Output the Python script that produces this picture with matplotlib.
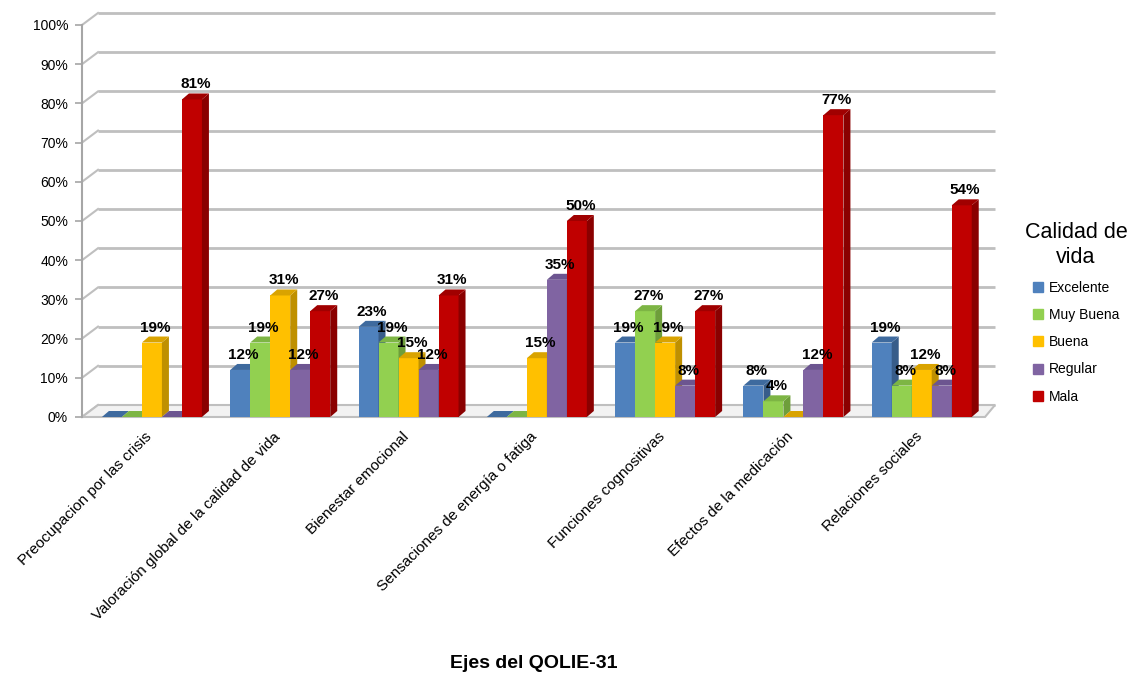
import numpy as np
import matplotlib
matplotlib.use("Agg")
import matplotlib.pyplot as plt
from matplotlib.patches import Polygon
from matplotlib.lines import Line2D
from matplotlib.transforms import offset_copy, ScaledTranslation

plt.rcParams["font.family"] = ["Liberation Sans", "DejaVu Sans"]

categories = [
    "Preocupacion por las crisis",
    "Valoración global de la calidad de vida",
    "Bienestar emocional",
    "Sensaciones de energía o fatiga",
    "Funciones cognositivas",
    "Efectos de la medicación",
    "Relaciones sociales",
]
series_names = ["Excelente", "Muy Buena", "Buena", "Regular", "Mala"]
excelente = [0, 12, 23, 0, 19, 8, 19]
muy_buena = [0, 19, 19, 0, 27, 4, 8]
buena = [19, 31, 15, 15, 19, 0, 12]
regular = [0, 12, 12, 35, 8, 12, 8]
mala = [81, 27, 31, 50, 27, 77, 54]
values = [excelente, muy_buena, buena, regular, mala]
y_ticks = list(range(0, 101, 10))

front_colors = ["#4F81BD", "#92D050", "#FFC000", "#8064A2", "#C00000"]
side_colors = ["#385D8A", "#6E9E3A", "#BF9000", "#5F4A7A", "#8A0000"]
top_colors = ["#3E6A9E", "#7DB544", "#D9A300", "#6C5590", "#A00000"]

W, H = 1133, 676
fig = plt.figure(figsize=(W / 100, H / 100), dpi=100)
# axes box in pixels: x 82..985, y 25 (100%) .. 417 (0%)
ax_l, ax_r, ax_t, ax_b = 82, 985, 25, 417
ax = fig.add_axes([ax_l / W, 1 - ax_b / H, (ax_r - ax_l) / W, (ax_b - ax_t) / H])

xmin, xmax = -0.545, -0.545 + (ax_r - ax_l) / 128.3
ax.set_xlim(xmin, xmax)
ax.set_ylim(0, 100)
ux = (xmax - xmin) / (ax_r - ax_l)   # data units per pixel
uy = 100 / (ax_b - ax_t)

# back wall gridlines + diagonals
wall_dx, wall_dy = 16, 12
back = offset_copy(ax.transData, fig, x=wall_dx, y=wall_dy, units="dots")
grid_c = "#BFBFBF"
for v in y_ticks:
    ax.plot([xmin, xmax - 6 * ux], [v, v], color=grid_c, lw=2, transform=back,
            clip_on=False, zorder=1, solid_capstyle="butt")
    ax.plot([xmin, xmin + wall_dx * ux], [v, v + wall_dy * uy], color=grid_c, lw=1.5,
            clip_on=False, zorder=1)

# floor
floor = Polygon([(xmin, 0), (xmax, 0), (xmax + 10 * ux, wall_dy * uy),
                 (xmin + wall_dx * ux, wall_dy * uy)], closed=True,
                facecolor="#F2F2F2", edgecolor=grid_c, lw=1.5, clip_on=False, zorder=1.5)
ax.add_patch(floor)

# bars with fake depth
bw = 20 * ux
ddx, ddy = 7 * ux, 6 * uy
x = np.arange(len(categories))
z = 3
for ci in range(len(categories)):
    for si in range(len(series_names)):
        h = values[si][ci]
        x0 = x[ci] + (si - 2.5) * bw
        ax.bar(x0, h, width=bw, align="edge", color=front_colors[si], zorder=z, lw=0)
        side = Polygon([(x0 + bw, 0), (x0 + bw + ddx, ddy), (x0 + bw + ddx, h + ddy), (x0 + bw, h)],
                       closed=True, facecolor=side_colors[si], lw=0, zorder=z, clip_on=False)
        top = Polygon([(x0, h), (x0 + bw, h), (x0 + bw + ddx, h + ddy), (x0 + ddx, h + ddy)],
                      closed=True, facecolor=top_colors[si], lw=0, zorder=z, clip_on=False)
        ax.add_patch(side)
        ax.add_patch(top)
        z += 0.01
        if h > 0:
            ax.text(x0 + bw / 2 + ddx / 2, h + ddy + 2 * uy, f"{h}%", ha="center", va="bottom",
                    fontsize=11, fontweight="bold", zorder=10, clip_on=False)

# axes styling
for s in ["top", "right", "bottom"]:
    ax.spines[s].set_visible(False)
ax.spines["left"].set_color("#A6A6A6")
ax.spines["left"].set_linewidth(1.5)
ax.set_yticks(y_ticks)
ax.set_yticklabels([f"{v}%" for v in y_ticks], fontsize=10)
ax.tick_params(axis="y", length=5, width=1.2, color="#A6A6A6", pad=5)
ax.set_xticks(x)
ax.set_xticklabels(categories, rotation=45, ha="right", va="top", rotation_mode="anchor",
                   fontsize=11)
ax.tick_params(axis="x", length=0, pad=9)
shift = ScaledTranslation(-7 / 100, 0, fig.dpi_scale_trans)
for lab in ax.get_xticklabels():
    lab.set_transform(lab.get_transform() + shift)

fig.text(0.5 * (ax_l + ax_r) / W, 1 - 663 / H, "Ejes del QOLIE-31", ha="center", va="center",
         fontsize=14, fontweight="bold")

handles = [Line2D([], [], marker="s", ls="", markersize=7, color=c) for c in front_colors]
leg = fig.legend(handles, series_names, title="Calidad de\nvida", loc="upper center",
                 bbox_to_anchor=(1076 / W, 1 - 210 / H), frameon=False, fontsize=10,
                 title_fontsize=15.5, handlelength=0.8, handletextpad=0.4, labelspacing=0.95,
                 alignment="center")
leg.get_title().set_linespacing(1.2)
leg.get_title().set_multialignment("center")

plt.savefig("out.png", dpi=100, facecolor="white")
plt.close(fig)
